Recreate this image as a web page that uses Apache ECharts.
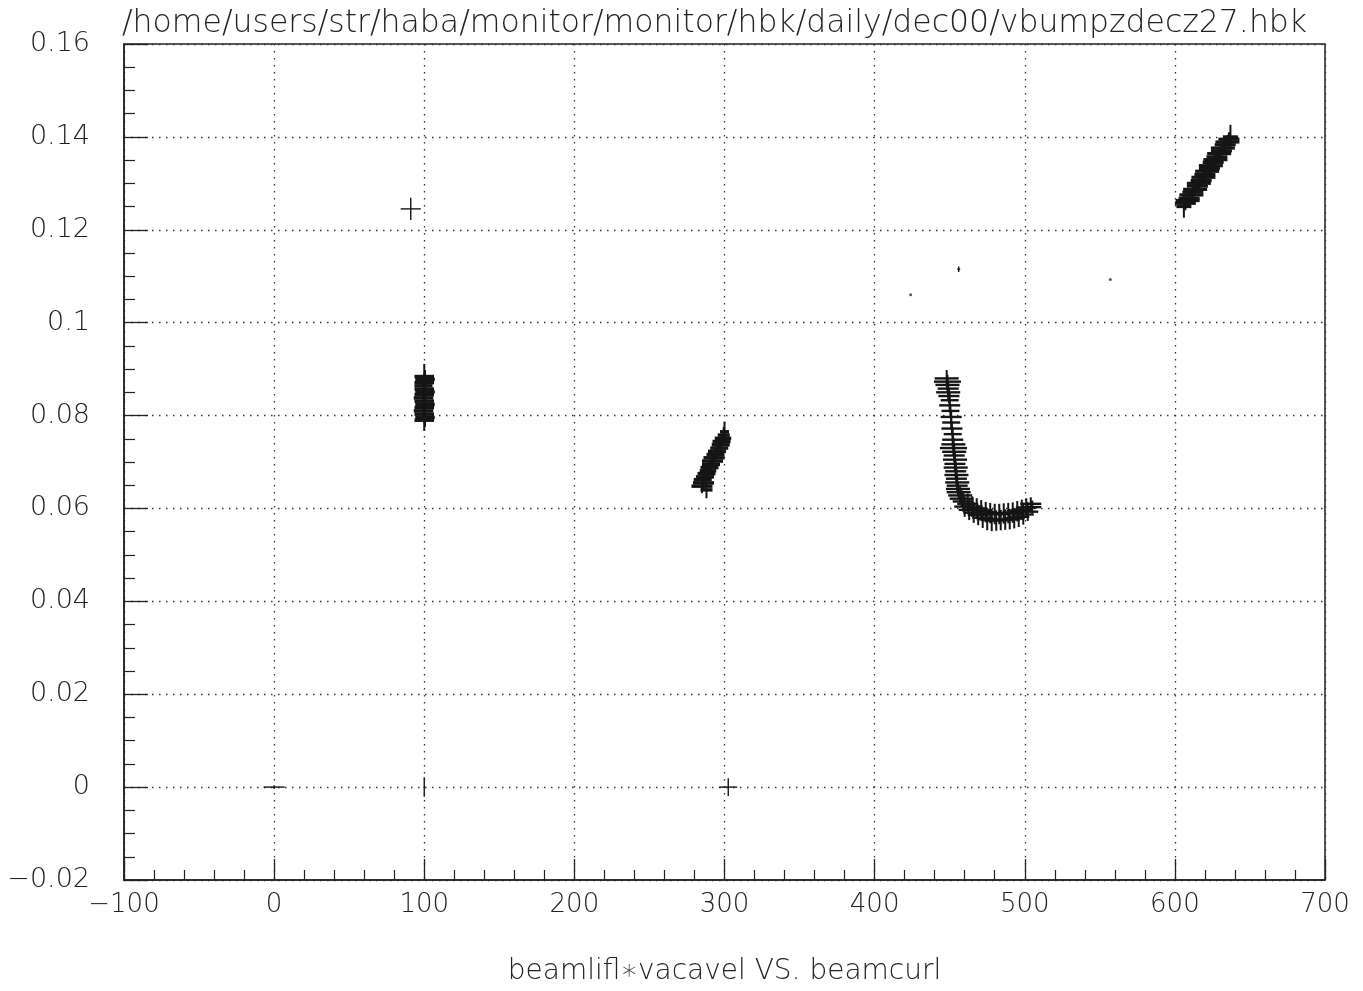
<!DOCTYPE html>
<html>
<head>
<meta charset="utf-8">
<script src="https://cdn.jsdelivr.net/npm/echarts@6/dist/echarts.min.js"></script>
<style>
html,body{margin:0;padding:0;background:#fff;}
#chart{width:1363px;height:991px;}
</style>
</head>
<body>
<div id="chart"></div>
<script>
// ---- data: [x, y, xErr, yErr] ----
const titleText = '/home/users/str/haba/monitor/monitor/hbk/daily/dec00/vbumpzdecz27.hbk';
const xAxisTitle = 'beamlifl\u2217vacavel VS. beamcurl';
const xTicks = [-100, 0, 100, 200, 300, 400, 500, 600, 700];
const xTickLabels = ['\u2212100', '0', '100', '200', '300', '400', '500', '600', '700'];
const yTicks = [-0.02, 0, 0.02, 0.04, 0.06, 0.08, 0.1, 0.12, 0.14, 0.16];
const yTickLabels = ['\u22120.02', '0', '0.02', '0.04', '0.06', '0.08', '0.1', '0.12', '0.14', '0.16'];

const cluster100 = [
  [100, 0.0884, 6.5, 0.0027], [100.5, 0.0878, 6.5, 0.002], [100, 0.0871, 6.5, 0.002],
  [99.5, 0.0864, 6, 0.002], [100, 0.0857, 6.5, 0.002], [100.5, 0.0851, 6.5, 0.002],
  [100, 0.0845, 6.5, 0.002], [99.5, 0.0838, 6.5, 0.002], [100, 0.0831, 6.5, 0.002],
  [100.5, 0.0824, 6.5, 0.002], [100, 0.0817, 6.5, 0.002], [99.5, 0.0810, 6.5, 0.002],
  [100, 0.0803, 6.5, 0.002], [100.5, 0.0796, 6.5, 0.002], [100, 0.0790, 6.5, 0.0023]
];
const cluster290 = [
  [288, 0.0640, 4, 0.0018], [285, 0.0648, 7, 0.0015], [286, 0.0655, 7, 0.0015],
  [285.5, 0.0662, 6, 0.0015], [287, 0.0668, 6, 0.0015], [288, 0.0675, 6, 0.0015],
  [289, 0.0681, 5.5, 0.0015], [290, 0.0688, 6, 0.0015], [291, 0.0695, 6, 0.0015],
  [292, 0.0702, 7, 0.0015], [293, 0.0709, 7, 0.0015], [294, 0.0716, 6, 0.0015],
  [295, 0.0723, 6, 0.0015], [296.5, 0.0730, 6, 0.0015], [297.5, 0.0737, 6, 0.0015],
  [298, 0.0744, 6, 0.0015], [299, 0.0751, 5.5, 0.0015], [299.5, 0.0758, 4, 0.0018],
  [300, 0.0765, 3, 0.0022]
];
const clusterJ = [
  [448, 0.0880, 8, 0.0018], [448.5, 0.0873, 9, 0.0015], [448.5, 0.0866, 8, 0.0015],
  [449, 0.0858, 7, 0.0015], [449, 0.0850, 8, 0.0015], [449.5, 0.0842, 7, 0.0015],
  [450, 0.0833, 6, 0.0015], [450, 0.0822, 7, 0.0015], [450.5, 0.0810, 6, 0.0015],
  [451, 0.0797, 7, 0.0015], [451, 0.0785, 6, 0.0015], [451.5, 0.0772, 7, 0.0015],
  [452, 0.0760, 6, 0.0015], [452, 0.0748, 7, 0.0015], [452.5, 0.0738, 8, 0.0015],
  [452.5, 0.0730, 9, 0.0015], [453, 0.0722, 8, 0.0015], [453, 0.0714, 7, 0.0015],
  [453.5, 0.0705, 8, 0.0015], [453.5, 0.0696, 7, 0.0015], [454, 0.0688, 8, 0.0015],
  [454, 0.0680, 7, 0.0015], [454.5, 0.0672, 8, 0.0015], [454.5, 0.0664, 7, 0.0015],
  [455, 0.0656, 8, 0.0015], [455, 0.0649, 7, 0.0015], [455.5, 0.0642, 8, 0.0015],
  [456, 0.0635, 8, 0.0015], [457, 0.0628, 8, 0.0018], [458, 0.0621, 8, 0.0018],
  [459, 0.0615, 7, 0.0022], [460, 0.0604, 7, 0.0022], [462, 0.0610, 7, 0.0022],
  [463, 0.0597, 7, 0.0022], [465, 0.0604, 7, 0.0022], [466, 0.0591, 7, 0.0022],
  [468, 0.0600, 7, 0.0022], [469, 0.0586, 7, 0.0022], [471, 0.0596, 7, 0.0022],
  [472, 0.0580, 7, 0.0022], [474, 0.0592, 7, 0.0022], [475, 0.0577, 7, 0.0024],
  [477, 0.0590, 7, 0.0022], [478, 0.0575, 7, 0.0024], [480, 0.0588, 7, 0.0022],
  [481, 0.0574, 7, 0.0022], [483, 0.0588, 7, 0.0022], [484, 0.0575, 7, 0.0022],
  [486, 0.0589, 7, 0.0022], [487, 0.0576, 7, 0.0022], [489, 0.0590, 7, 0.0022],
  [490, 0.0577, 7, 0.0022], [492, 0.0591, 7, 0.0022], [493, 0.0579, 7, 0.0022],
  [495, 0.0594, 7, 0.0022], [496, 0.0582, 7, 0.0022], [498, 0.0597, 7, 0.0022],
  [499, 0.0587, 7, 0.0022], [501, 0.0602, 7, 0.0020], [502, 0.0593, 7, 0.0020],
  [504, 0.0610, 7, 0.0014], [505, 0.0603, 6, 0.0014]
];
const cluster620 = [
  [606, 0.1250, 5, 0.0024], [607, 0.1257, 7, 0.0015], [608.5, 0.1263, 8, 0.0015],
  [609.5, 0.1268, 7, 0.0015], [611, 0.1275, 8, 0.0015], [612, 0.1281, 7, 0.0015],
  [613.5, 0.1287, 8, 0.0015], [615, 0.1294, 7, 0.0015], [616, 0.1300, 8, 0.0015],
  [617.5, 0.1306, 7, 0.0015], [619, 0.1313, 8, 0.0015], [620, 0.1319, 7, 0.0015],
  [621.5, 0.1326, 8, 0.0015], [623, 0.1332, 7, 0.0015], [624, 0.1338, 8, 0.0015],
  [625.5, 0.1345, 7, 0.0015], [627, 0.1351, 8, 0.0015], [628, 0.1357, 7, 0.0015],
  [629.5, 0.1364, 8, 0.0015], [631, 0.1370, 7, 0.0015], [632, 0.1376, 8, 0.0015],
  [633.5, 0.1383, 7, 0.0015], [635, 0.1389, 8, 0.0015], [636, 0.1395, 7, 0.0015],
  [637, 0.1400, 5, 0.0026]
];
const isolated = [
  [91, 0.1245, 6.7, 0.0024], [0, 0, 7, 0.0004], [100, 0, 0.4, 0.0021],
  [302.5, 0, 6, 0.0019], [456, 0.1115, 1, 0.0006]
];
const specks = [[424, 0.106], [557, 0.1093]];

// ---- chart ----
const FONT = 'DejaVu Sans';
function tickLabel(ticks, labels) {
  return function (v) {
    let best = 0, bd = Infinity;
    ticks.forEach((t, i) => { const d = Math.abs(t - v); if (d < bd) { bd = d; best = i; } });
    return labels[best];
  };
}
function crossRenderer(hw, vw) {
  return function (params, api) {
    const x = api.value(0), y = api.value(1), ex = api.value(2), ey = api.value(3);
    const l = api.coord([x - ex, y]), r = api.coord([x + ex, y]);
    const t = api.coord([x, y + ey]), b = api.coord([x, y - ey]);
    return {
      type: 'group',
      children: [
        { type: 'line', shape: { x1: l[0], y1: l[1], x2: r[0], y2: r[1] }, style: { stroke: '#151515', lineWidth: hw } },
        { type: 'line', shape: { x1: t[0], y1: t[1], x2: b[0], y2: b[1] }, style: { stroke: '#151515', lineWidth: vw } }
      ]
    };
  };
}
function crossSeries(data, hw, vw) {
  return {
    type: 'custom',
    renderItem: crossRenderer(hw, vw),
    dimensions: ['x', 'y', 'ex', 'ey'],
    encode: { x: 0, y: 1 },
    data: data,
    silent: true,
    animation: false
  };
}

const chart = echarts.init(document.getElementById('chart'), null, { renderer: 'canvas' });
chart.setOption({
  backgroundColor: '#ffffff',
  animation: false,
  title: {
    text: titleText,
    left: 117,
    top: 3,
    textStyle: { fontFamily: FONT, fontWeight: 200, fontSize: 31.5, color: '#222' }
  },
  grid: {
    left: 124, right: 38, top: 44, bottom: 108,
    show: true, borderColor: '#222', borderWidth: 1.5, backgroundColor: 'transparent'
  },
  xAxis: {
    type: 'value', min: -100, max: 700, interval: 100,
    name: xAxisTitle, nameLocation: 'middle', nameGap: 78,
    nameTextStyle: { fontFamily: FONT, fontWeight: 200, fontSize: 28, color: '#222' },
    axisLine: { show: true, onZero: false, lineStyle: { color: '#222', width: 1.5 } },
    axisTick: { show: true, inside: true, length: 21, lineStyle: { color: '#222', width: 1.3 } },
    minorTick: { show: true, splitNumber: 5, length: 10, lineStyle: { color: '#222', width: 1.2 } },
    axisLabel: {
      margin: 12, fontFamily: FONT, fontWeight: 200, fontSize: 26, color: '#222',
      formatter: tickLabel(xTicks, xTickLabels)
    },
    splitLine: { show: true, lineStyle: { color: '#333', width: 1.3, type: [1.5, 5.5] } }
  },
  yAxis: {
    type: 'value', min: -0.02, max: 0.16, interval: 0.02,
    axisLine: { show: true, onZero: false, lineStyle: { color: '#222', width: 1.5 } },
    axisTick: { show: true, inside: true, length: 24, lineStyle: { color: '#222', width: 1.3 } },
    minorTick: { show: true, splitNumber: 4, length: 11, lineStyle: { color: '#222', width: 1.2 } },
    axisLabel: {
      margin: 34, fontFamily: FONT, fontWeight: 200, fontSize: 27, color: '#222',
      formatter: tickLabel(yTicks, yTickLabels)
    },
    splitLine: { show: true, lineStyle: { color: '#333', width: 1.3, type: [1.5, 5.5] } }
  },
  series: [
    crossSeries(cluster100, 3.5, 2),
    crossSeries(cluster290, 3.5, 2),
    crossSeries(clusterJ, 2.4, 2),
    crossSeries(cluster620, 3.2, 2),
    crossSeries(isolated, 1.4, 1.4),
    {
      type: 'scatter', data: specks, symbol: 'circle', symbolSize: 3,
      itemStyle: { color: '#333' }, silent: true, animation: false
    }
  ]
});
</script>
</body>
</html>
